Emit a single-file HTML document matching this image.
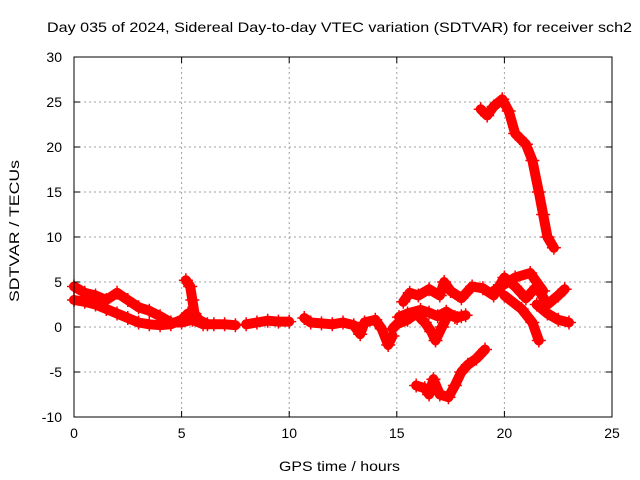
<!DOCTYPE html>
<html><head><meta charset="utf-8"><style>
body{margin:0;background:#fff;}
svg{display:block;font-family:"Liberation Sans",sans-serif;}
</style></head><body>
<svg id="chart" width="640" height="480" viewBox="0 0 640 480">
<text x="47" y="32" font-size="14" textLength="585" lengthAdjust="spacingAndGlyphs">Day 035 of 2024, Sidereal Day-to-day VTEC variation (SDTVAR) for receiver sch2</text>
<text x="279" y="471" font-size="14" textLength="121" lengthAdjust="spacingAndGlyphs">GPS time / hours</text>
<text transform="translate(19,302) rotate(-90)" font-size="14" textLength="142" lengthAdjust="spacingAndGlyphs">SDTVAR / TECUs</text>
<g id="grid"></g>
<g id="series"></g>
<rect x="74" y="57" width="538" height="360" fill="none" stroke="#000" stroke-width="1"/>
<g id="ticks"></g>
</svg>
<script>
const xTicks=[0,5,10,15,20,25];
const yTicks=[-10,-5,0,5,10,15,20,25,30];
const trackA=[[0,4.5],[0.5,3.8],[1,3.5],[1.5,3],[2,3.8],[2.5,3],[3,2.2],[3.5,1.8],[4,1.2],[4.5,0.5],[5,0.5],[5.5,0.8],[6,0.3],[6.5,0.3],[7,0.3],[7.5,0.2]];
const trackB=[[0,3],[0.5,2.8],[1,2.5],[1.5,2],[2,1.5],[2.5,1],[3,0.5],[3.5,0.3],[4,0.2],[4.5,0.3],[5,0.8],[5.3,1.5]];
const trackC=[[5.2,5.2],[5.4,4.5],[5.5,3],[5.6,1.5],[5.8,0.8],[6.2,0.3]];
const trackD=[[8,0.3],[8.5,0.5],[9,0.7],[9.5,0.6],[10,0.6]];
const trackE=[[10.7,1],[11,0.5],[11.5,0.4],[12,0.3],[12.5,0.5],[13,0.2],[13.3,-0.8],[13.5,0.5],[14,0.8],[14.3,-0.2],[14.6,-2],[14.8,-1]];
const trackF=[[14.8,-0.2],[15,0.3],[15.5,0.8],[15.9,1.5],[16.3,0.5],[16.6,-0.5],[16.8,-1.5],[17.1,0],[17.4,1.4],[17.7,1.1],[18,1.2],[18.2,1.3]];
const trackG=[[15.1,1.1],[15.5,1.5],[16.1,1.9],[16.5,1.6],[16.9,1.2],[17.3,1.7],[17.8,1]];
const trackH=[[15.3,2.8],[15.6,3.8],[16,3.5],[16.5,4.2],[17,3.5],[17.2,5],[17.5,4],[18,3.2],[18.5,4.5],[19,4.3],[19.5,3.5],[20,5.5],[20.5,4.5],[21,3.2],[21.5,4.5],[22,2.5],[22.5,3.5],[22.8,4.2]];
const trackI=[[20,3.5],[20.8,2],[21.3,0.5],[21.6,-1.5]];
const trackJ=[[21.5,2.5],[22,1.5],[22.5,0.8],[23,0.5]];
const trackK=[[19.5,4],[20.5,5.5],[21.2,6],[21.8,4]];
const trackL=[[15.9,-6.5],[16.3,-6.8],[16.5,-7.5],[16.7,-5.8],[17,-7.5],[17.4,-7.8],[17.7,-6.5],[18,-5],[18.3,-4.2],[18.7,-3.5],[19.1,-2.5]];
const trackM=[[18.9,24.2],[19.2,23.5],[19.5,24.5],[19.9,25.3],[20.2,24],[20.5,21.5],[21,20.3],[21.3,18.5],[21.6,15],[21.8,12.5],[22,10],[22.3,8.8]];
const tracks=[trackA,trackB,trackC,trackD,trackE,trackF,trackG,trackH,trackI,trackJ,trackK,trackL,trackM];
const NS="http://www.w3.org/2000/svg";
const X0=74,X1=612,Y0=417,Y1=57;
function sx(h){return X0+(h-0)/(25-0)*(X1-X0);}
function sy(v){return Y0-(v+10)/(40)*(Y0-Y1);}
function mk(tag,attrs,parent){const e=document.createElementNS(NS,tag);for(const k in attrs)e.setAttribute(k,attrs[k]);parent.appendChild(e);return e;}
const grid=document.getElementById('grid'),ticks=document.getElementById('ticks'),series=document.getElementById('series');
xTicks.forEach(t=>{
  const x=sx(t);
  if(t>0&&t<25){const g=mk('line',{x1:x,x2:x,y1:Y1,y2:Y0,stroke:'#a0a0a0','stroke-dasharray':'2,3'},grid);
  
  }
  mk('line',{x1:x,x2:x,y1:Y0,y2:Y0-6,stroke:'#000'},ticks);
  mk('line',{x1:x,x2:x,y1:Y1,y2:Y1+6,stroke:'#000'},ticks);
  const l=mk('text',{x:x,y:Y0+21,'font-size':14,'text-anchor':'middle'},ticks);l.textContent=t;
  
  
});
yTicks.forEach(t=>{
  const y=sy(t);
  if(t>-10&&t<30){const g=mk('line',{x1:X0,x2:X1,y1:y,y2:y,stroke:'#a0a0a0','stroke-dasharray':'2,3'},grid);
  
  }
  mk('line',{x1:X0,x2:X0+6,y1:y,y2:y,stroke:'#000'},ticks);
  mk('line',{x1:X1,x2:X1-6,y1:y,y2:y,stroke:'#000'},ticks);
  const l=mk('text',{x:X0-12,y:y+5,'font-size':14,'text-anchor':'end'},ticks);l.textContent=t;
  
  
});
tracks.forEach(tr=>{
  const p=mk('polyline',{points:tr.map(d=>sx(d[0])+','+sy(d[1])).join(' '),fill:'none',stroke:'#ff0000','stroke-width':10,'stroke-linejoin':'round','stroke-linecap':'round'},series);
  
  
  tr.forEach(d=>{
    const x=sx(d[0]),y=sy(d[1]);
    const m=mk('path',{d:`M${x-7},${y}H${x+7}M${x},${y-7}V${y+7}`,stroke:'#ff0000','stroke-width':1.5},series);
    
    
  });
});
</script>
</body></html>
